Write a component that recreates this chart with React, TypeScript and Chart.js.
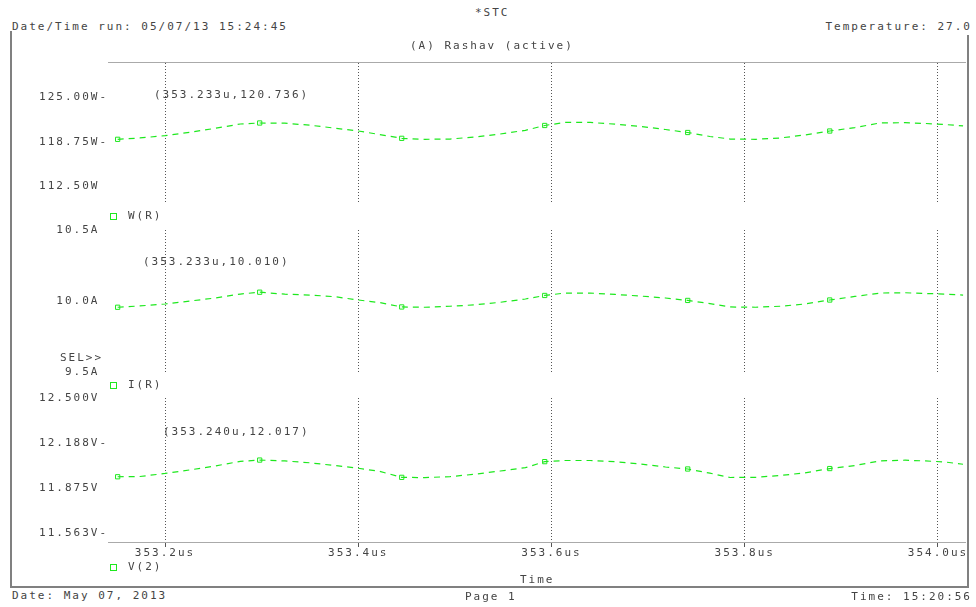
import React, { useEffect, useRef } from 'react';
import { Chart, registerables } from 'chart.js';
Chart.register(...registerables);

// ---- data (time in microseconds) ----
const timeUs = [353.151, 353.174, 353.200, 353.226, 353.252, 353.278, 353.298, 353.324, 353.350, 353.376, 353.400, 353.422, 353.445, 353.469, 353.495, 353.521, 353.547, 353.573, 353.593, 353.614, 353.640, 353.666, 353.692, 353.718, 353.741, 353.764, 353.785, 353.811, 353.837, 353.862, 353.888, 353.914, 353.940, 353.966, 353.987, 354.007, 354.026];
const powerW = [119.11, 119.30, 119.62, 120.10, 120.66, 121.27, 121.41, 121.38, 121.10, 120.68, 120.28, 119.79, 119.25, 119.11, 119.15, 119.44, 119.86, 120.38, 121.06, 121.49, 121.49, 121.24, 120.94, 120.49, 120.07, 119.51, 119.15, 119.11, 119.30, 119.72, 120.28, 120.77, 121.41, 121.45, 121.34, 121.20, 120.99];
const currentA = [9.956, 9.965, 9.979, 10.000, 10.021, 10.049, 10.062, 10.048, 10.042, 10.030, 10.007, 9.989, 9.958, 9.956, 9.963, 9.973, 9.991, 10.014, 10.039, 10.056, 10.056, 10.046, 10.035, 10.021, 10.004, 9.982, 9.958, 9.956, 9.963, 9.979, 10.007, 10.032, 10.056, 10.058, 10.053, 10.049, 10.042];
const voltageV = [11.953, 11.955, 11.976, 12.001, 12.028, 12.060, 12.069, 12.063, 12.050, 12.031, 12.012, 11.991, 11.949, 11.947, 11.954, 11.971, 11.993, 12.016, 12.058, 12.066, 12.066, 12.058, 12.042, 12.021, 12.007, 11.978, 11.948, 11.949, 11.962, 11.980, 12.010, 12.031, 12.063, 12.068, 12.063, 12.056, 12.040];
const markerIdx = [0, 6, 12, 18, 24, 30];

const X_MIN = 353.141;
const X_MAX = 354.028;
const xTicks = [353.2, 353.4, 353.6, 353.8, 354.0];
const xTickLabels = ['353.2us', '353.4us', '353.6us', '353.8us', '354.0us'];

const powerTicks = [125, 118.75, 112.5];
const powerLabels = ['125.00W-', '118.75W-', '112.50W '];
const currentTicks = [10.5, 10.0, 9.5];
const currentLabels = ['10.5A ', '10.0A ', '9.5A '];
const voltageTicks = [12.5, 12.1875, 11.875, 11.5625];
const voltageLabels = ['12.500V ', '12.188V-', '11.875V ', '11.563V-'];

const FONT = "'DejaVu Sans Mono', 'Liberation Mono', monospace";
const GREEN = '#1ee81e';
const TEXT = '#444';

type PlotCfg = {
  top: number; height: number; padTop: number; padBottom: number;
  values: number[]; yMin: number; yMax: number; yTicks: number[]; yLabels: string[];
  xPos: 'top' | 'bottom'; showBorder: boolean; showXLabels: boolean; xAxisHeight: number;
};

function Plot({ cfg }: { cfg: PlotCfg }) {
  const ref = useRef<HTMLCanvasElement>(null);
  useEffect(() => {
    const spacing = {
      id: 'spacing',
      beforeDraw(c: any) { c.ctx.letterSpacing = '2px'; },
    };
    const chart = new Chart(ref.current as HTMLCanvasElement, {
      type: 'line',
      data: {
        datasets: [{
          data: timeUs.map((t, i) => ({ x: t, y: cfg.values[i] })),
          borderColor: GREEN,
          borderWidth: 1.2,
          borderDash: [6, 5],
          pointStyle: 'rect',
          pointRadius: timeUs.map((_, i) => (markerIdx.includes(i) ? 3 : 0)),
          pointBorderColor: GREEN,
          pointBackgroundColor: 'rgba(0,0,0,0)',
          pointBorderWidth: 1,
          tension: 0,
          fill: false,
        }],
      },
      options: {
        responsive: false,
        animation: false,
        devicePixelRatio: 1,
        events: [],
        layout: { padding: { left: 8, right: 11, top: cfg.padTop, bottom: cfg.padBottom } },
        plugins: { legend: { display: false }, tooltip: { enabled: false }, title: { display: false } },
        scales: {
          x: {
            type: 'linear',
            position: cfg.xPos,
            min: X_MIN,
            max: X_MAX,
            afterBuildTicks: (s: any) => { s.ticks = xTicks.map((v) => ({ value: v })); },
            afterFit: (s: any) => { s.height = cfg.xAxisHeight; },
            grid: { display: true, color: '#555', lineWidth: 1, drawTicks: cfg.showXLabels, tickLength: 5, tickColor: '#555', tickBorderDash: [] },
            border: { display: cfg.showBorder, color: '#aaa', width: 1, dash: [1, 2] },
            ticks: {
              display: cfg.showXLabels, padding: 0, autoSkip: false, maxRotation: 0,
              font: { family: FONT, size: 11 }, color: TEXT,
              callback: (_v: any, i: number) => xTickLabels[i],
            },
          },
          y: {
            type: 'linear',
            min: cfg.yMin,
            max: cfg.yMax,
            afterBuildTicks: (s: any) => { s.ticks = cfg.yTicks.map((v) => ({ value: v })); },
            afterFit: (s: any) => { s.width = 100; },
            grid: { display: false, drawTicks: false, tickLength: 0 },
            border: { display: false },
            ticks: {
              padding: 0, autoSkip: false,
              font: { family: FONT, size: 11 }, color: TEXT,
              callback: (_v: any, i: number) => cfg.yLabels[i],
            },
          },
        },
      } as any,
      plugins: [spacing],
    });
    return () => chart.destroy();
  }, []);
  return (
    <canvas
      ref={ref}
      width={976}
      height={cfg.height}
      style={{ position: 'absolute', left: 0, top: cfg.top, width: 976, height: cfg.height }}
    />
  );
}

function T({ x, y, text, right }: { x: number; y: number; text: string; right?: boolean }) {
  const style: React.CSSProperties = {
    position: 'absolute', top: y - 7, height: 14, lineHeight: '14px',
    fontFamily: FONT, fontSize: 11, letterSpacing: '2px', color: TEXT, whiteSpace: 'pre',
  };
  if (right) { style.right = 976 - x; style.textAlign = 'right'; } else { style.left = x; }
  return <div style={style}>{text}</div>;
}

function Sq({ y }: { y: number }) {
  return <div style={{ position: 'absolute', left: 110, top: y - 3, width: 5, height: 5, border: `1px solid ${GREEN}` }} />;
}

export default function App() {
  const plots: PlotCfg[] = [
    { top: 50, height: 165, padTop: 12, padBottom: 11, values: powerW, yMin: 110, yMax: 130, yTicks: powerTicks, yLabels: powerLabels, xPos: 'top', showBorder: true, showXLabels: false, xAxisHeight: 0 },
    { top: 218, height: 166, padTop: 12, padBottom: 12, values: currentA, yMin: 9.5, yMax: 10.5, yTicks: currentTicks, yLabels: currentLabels, xPos: 'bottom', showBorder: false, showXLabels: false, xAxisHeight: 0 },
    { top: 386, height: 180, padTop: 12, padBottom: 4, values: voltageV, yMin: 11.5, yMax: 12.5, yTicks: voltageTicks, yLabels: voltageLabels, xPos: 'bottom', showBorder: true, showXLabels: true, xAxisHeight: 20 },
  ];
  return (
    <div style={{ position: 'absolute', left: 0, top: 0, width: 976, height: 607, background: '#fff', overflow: 'hidden' }}>
      {plots.map((p, i) => <Plot key={i} cfg={p} />)}
      {/* frame */}
      <div style={{ position: 'absolute', left: 10, top: 31, width: 2, height: 557, background: '#808080' }} />
      <div style={{ position: 'absolute', left: 967, top: 35, width: 2, height: 553, background: '#808080' }} />
      <div style={{ position: 'absolute', left: 10, top: 586, width: 959, height: 2, background: '#808080' }} />
      {/* header */}
      <T x={475} y={13} text="*STC" />
      <T x={12} y={27} text="Date/Time run: 05/07/13 15:24:45" />
      <T x={972} y={27} text="Temperature: 27.0" right />
      <T x={410} y={46} text="(A) Rashav (active)" />
      {/* annotations */}
      <T x={154} y={95} text="(353.233u,120.736)" />
      <T x={143} y={262} text="(353.233u,10.010)" />
      <T x={163} y={432} text="(353.240u,12.017)" />
      {/* legends */}
      <Sq y={216} />
      <T x={128} y={216} text="W(R)" />
      <T x={60} y={358} text="SEL>>" />
      <Sq y={385} />
      <T x={128} y={385} text="I(R)" />
      <Sq y={567} />
      <T x={128} y={567} text="V(2)" />
      <T x={520} y={580} text="Time" />
      {/* footer */}
      <T x={12} y={596} text="Date: May 07, 2013" />
      <T x={465} y={597} text="Page 1" />
      <T x={972} y={597} text="Time: 15:20:56" right />
    </div>
  );
}
